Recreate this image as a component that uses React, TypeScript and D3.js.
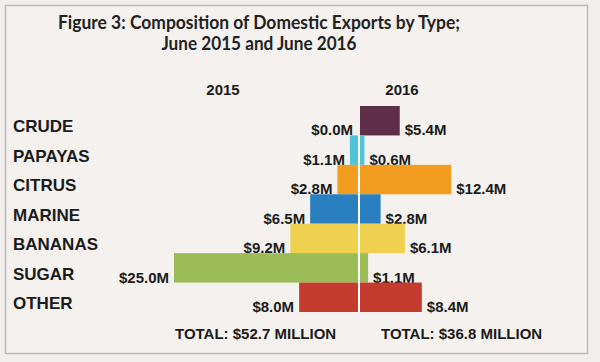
import React from "react";
import * as d3 from "d3";

const categories = ["CRUDE", "PAPAYAS", "CITRUS", "MARINE", "BANANAS", "SUGAR", "OTHER"];
const values2015 = [0.0, 1.1, 2.8, 6.5, 9.2, 25.0, 8.0];
const values2016 = [5.4, 0.6, 12.4, 2.8, 6.1, 1.1, 8.4];
const colors = ["#5f2e48", "#4ec4d4", "#f29c20", "#2a7fc1", "#f0d04f", "#9bbb57", "#c53c2f"];
const years = ["2015", "2016"];
const totals = ["TOTAL: $52.7 MILLION", "TOTAL: $36.8 MILLION"];
const titleLines = ["Figure 3: Composition of Domestic Exports by Type;", "June 2015 and June 2016"];

const W = 600;
const H = 362;
const CX = 359;
const ARIAL = "'Liberation Sans', Arial, Helvetica, sans-serif";
const TEXT = "#1b1b1b";

export default function App() {
  const y = d3.scaleBand<string>().domain(categories).range([106, 312]).padding(0);
  const x = d3.scaleLinear().domain([0, 25]).range([0, 184]);
  const fmt = (v: number) => `$${d3.format(".1f")(v)}M`;

  return (
    <svg width={W} height={H} style={{ position: "absolute", left: 0, top: 0, display: "block" }}>
      <rect x={0} y={0} width={W} height={H} fill="#f1eeeb" />
      <rect x={5.5} y={5.5} width={582} height={348} fill="#f4f1ef" stroke="#bdb9b7" strokeWidth={1.5} />
      {titleLines.map((t, i) => (
        <text
          key={t}
          x={259}
          y={29 + i * 21}
          textAnchor="middle"
          fontFamily="Lato, 'Open Sans', sans-serif"
          fontWeight={700}
          fontSize={18.5}
          fill="#222"
          textLength={i === 0 ? 402 : 195}
          lengthAdjust="spacingAndGlyphs"
        >
          {t}
        </text>
      ))}
      {years.map((yr, i) => (
        <text key={yr} x={i === 0 ? 223 : 402} y={95} textAnchor="middle" fontFamily={ARIAL} fontWeight={700} fontSize={15} fill={TEXT}>
          {yr}
        </text>
      ))}
      {categories.map((c, i) => {
        const top = y(c)!;
        const bh = y.bandwidth();
        const bottom = top + bh;
        const wl = x(values2015[i]);
        const wr = x(values2016[i]);
        const leftEdge = CX - 1 - wl;
        const rightEdge = CX + 1 + wr;
        return (
          <g key={c}>
            <text x={13} y={bottom - 3} fontFamily={ARIAL} fontWeight={700} fontSize={17} fill={TEXT}>
              {c}
            </text>
            {wl > 0 && <rect x={leftEdge} y={top} width={wl} height={bh} fill={colors[i]} />}
            {wr > 0 && <rect x={CX + 1} y={top} width={wr} height={bh} fill={colors[i]} />}
            <text x={leftEdge - 5} y={bottom} textAnchor="end" fontFamily={ARIAL} fontWeight={700} fontSize={15} fill={TEXT}>
              {fmt(values2015[i])}
            </text>
            <text x={rightEdge + 5} y={bottom} fontFamily={ARIAL} fontWeight={700} fontSize={15} fill={TEXT}>
              {fmt(values2016[i])}
            </text>
          </g>
        );
      })}
      <rect x={CX - 1} y={y(categories[1])!} width={2} height={312 - y(categories[1])!} fill="#ffffff" />
      {totals.map((t, i) => (
        <text key={t} x={i === 0 ? 175 : 381} y={339} fontFamily={ARIAL} fontWeight={700} fontSize={15} fill={TEXT}>
          {t}
        </text>
      ))}
    </svg>
  );
}
